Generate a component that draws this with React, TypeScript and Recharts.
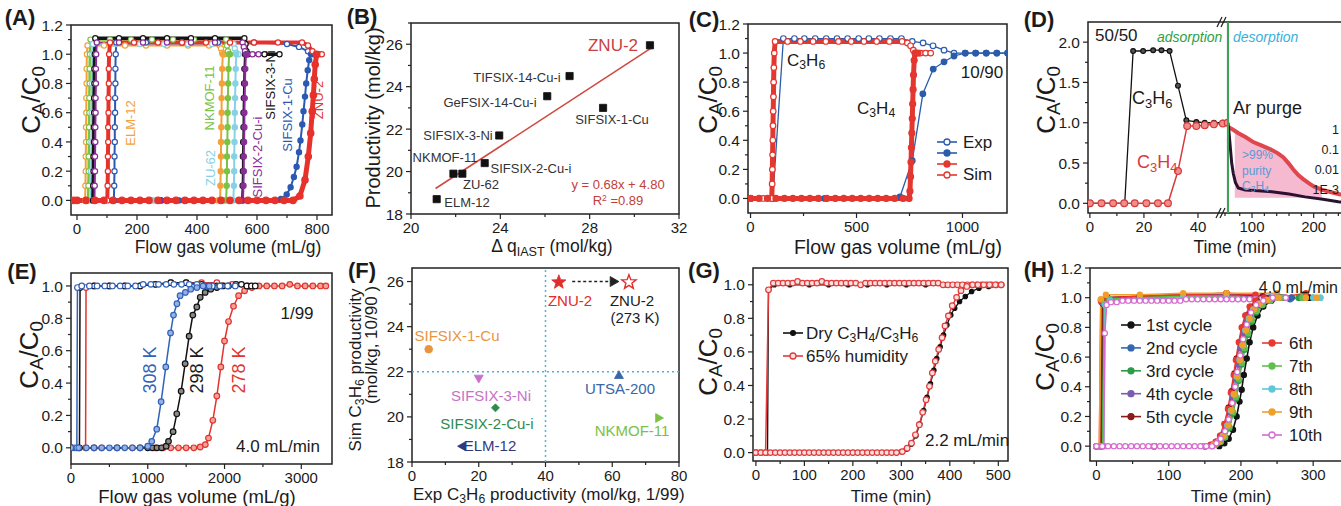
import React from 'react'
import { ComposedChart, Line, Scatter, Area, XAxis, YAxis, ReferenceArea, ReferenceLine } from 'recharts'

const FONT = '"Liberation Sans", Arial, Helvetica, sans-serif'
const AX = '#222'
const INK = '#1b1b1b'

type P = [number, number]

// shared tick values
const yTicks12 = [0, 0.1, 0.2, 0.3, 0.4, 0.5, 0.6, 0.7, 0.8, 0.9, 1, 1.1, 1.2]
const yMajor12 = [0, 0.2, 0.4, 0.6, 0.8, 1, 1.2]
const yTicks10 = [0, 0.1, 0.2, 0.3, 0.4, 0.5, 0.6, 0.7, 0.8, 0.9, 1]
const yMajor10 = [0, 0.2, 0.4, 0.6, 0.8, 1]

// ---------- (A) C3H6 open / C3H4 filled, 10/90 ----------
const aElmC3H6: P[] = [[0,0],[27,0],[28,0.1],[29,0.2],[29,0.3],[30,0.4],[30,0.5],[31,0.6],[31,0.7],[32,0.8],[32,0.9],[33,1],[35,1.06],[90,1.06],[160,1.06],[230,1.06],[300,1.06],[370,1.06],[440,1.06],[476,1.06],[480,1.04],[484,1.01],[492,1]]
const aElmC3H4: P[] = [[0,0],[240,0],[470,0],[477,0],[478,0.1],[479,0.2],[480,0.3],[480,0.4],[481,0.5],[482,0.6],[482,0.7],[483,0.8],[484,0.9],[486,1]]
const aNkC3H6: P[] = [[0,0],[37,0],[38,0.1],[39,0.2],[39,0.3],[40,0.4],[40,0.5],[41,0.6],[41,0.7],[42,0.8],[42,0.9],[43,1],[45,1.1],[110,1.1],[180,1.1],[250,1.1],[320,1.1],[390,1.1],[460,1.1],[497,1.1],[500,1.06],[503,1.02],[510,1]]
const aNkC3H4: P[] = [[0,0],[250,0],[490,0],[497,0],[499,0.1],[500,0.2],[500,0.3],[501,0.4],[502,0.5],[502,0.6],[503,0.7],[504,0.8],[505,0.9],[507,1]]
const aZuC3H6: P[] = [[0,0],[46,0],[47,0.2],[48,0.4],[49,0.6],[50,0.8],[51,1],[53,1.07],[130,1.07],[210,1.07],[290,1.07],[370,1.07],[450,1.07],[522,1.07],[526,1.04],[530,1.01],[538,1]]
const aZuC3H4: P[] = [[0,0],[260,0],[510,0],[521,0],[523,0.1],[524,0.2],[524,0.3],[525,0.4],[526,0.5],[526,0.6],[527,0.7],[528,0.8],[529,0.9],[531,1]]
const aS2C3H6: P[] = [[0,0],[58,0],[59,0.1],[60,0.2],[60,0.3],[61,0.4],[61,0.5],[62,0.6],[62,0.7],[63,0.8],[63,0.9],[64,1],[66,1.08],[140,1.08],[220,1.08],[300,1.08],[380,1.08],[460,1.08],[552,1.08],[556,1.05],[560,1.02],[566,1],[585,1],[605,1]]
const aS2C3H4: P[] = [[0,0],[280,0],[540,0],[553,0],[555,0.1],[556,0.2],[556,0.3],[557,0.4],[558,0.5],[558,0.6],[559,0.7],[560,0.8],[561,0.9],[563,1]]
const aS3C3H6: P[] = [[0,0],[53,0],[54,0.1],[55,0.2],[55,0.3],[56,0.4],[56,0.5],[57,0.6],[57,0.7],[58,0.8],[58,0.9],[59,1],[61,1.11],[140,1.11],[220,1.11],[300,1.11],[380,1.11],[460,1.11],[558,1.11],[562,1.07],[565,1.02],[570,1],[625,1],[675,1]]
const aS3C3H4: P[] = [[0,0],[280,0],[540,0],[550,0],[552,0.1],[553,0.2],[553,0.3],[554,0.4],[555,0.5],[555,0.6],[556,0.7],[557,0.8],[558,0.9],[560,1]]
const aS1C3H6: P[] = [[0,0],[123,0],[124,0.1],[125,0.2],[125,0.3],[126,0.4],[126,0.5],[127,0.6],[127,0.7],[128,0.8],[128,0.9],[129,1],[131,1.08],[230,1.08],[350,1.08],[470,1.08],[590,1.08],[700,1.07],[740,1.05],[770,1.02],[790,1]]
const aS1C3H4: P[] = [[0,0],[340,0],[680,0.01],[699,0.04],[712,0.09],[723,0.16],[732,0.23],[740,0.33],[745,0.41],[751,0.52],[755,0.61],[760,0.71],[764,0.8],[769,0.89],[774,0.96],[780,1]]
const aZnC3H6: P[] = [[0,0],[101,0],[102,0.1],[103,0.2],[103,0.3],[104,0.4],[104,0.5],[105,0.6],[105,0.7],[106,0.8],[106,0.9],[107,1],[110,1.08],[190,1.08],[270,1.08],[350,1.08],[430,1.08],[510,1.08],[590,1.08],[670,1.08],[750,1.08],[770,1.06],[785,1.02],[796,1],[806,1],[816,1]]
const aZnC3H4: P[] = [[-12,0],[0,0],[30,0],[60,0],[90,0],[120,0],[150,0],[180,0],[210,0],[240,0],[270,0],[300,0],[330,0],[360,0],[390,0],[420,0],[450,0],[480,0],[510,0],[540,0],[570,0],[600,0],[630,0],[660,0],[690,0],[720,0],[743,0.03],[760,0.14],[771,0.3],[779,0.46],[784,0.61],[788,0.72],[791,0.83],[794,0.93],[799,1]]

// ---------- (B) productivity vs delta q ----------
const bNames = ['ELM-12', 'NKMOF-11', 'ZU-62', 'SIFSIX-2-Cu-i', 'SIFSIX-3-Ni', 'GeFSIX-14-Cu-i', 'TIFSIX-14-Cu-i', 'SIFSIX-1-Cu', 'ZNU-2']
const bDeltaQ = [21.15, 21.9, 22.3, 23.3, 23.95, 26.1, 27.1, 28.6, 30.7]
const bProd = [18.7, 19.9, 19.9, 20.4, 21.7, 23.55, 24.5, 23.0, 25.95]
const bFit: P[] = [[21.1, 19.2], [30.8, 25.85]]

// ---------- (C) exp vs sim, 10/90 ----------
const cExpC3H6: P[] = [[0,0],[100,0],[105,0],[155,1.1],[207,1.1],[254,1.1],[305,1.1],[357,1.1],[408,1.1],[458,1.1],[510,1.1],[558,1.1],[608,1.1],[660,1.1],[712,1.1],[763,1.08],[814,1.07],[861,1.05],[913,1.02],[960,1.0],[1013,1],[1062,1],[1112,1],[1162,1],[1213,1]]
const cExpC3H4: P[] = [[0,0],[350,0],[705,0.01],[763,0.26],[813,0.72],[862,0.89],[913,0.94],[960,0.98],[1013,1],[1062,1],[1112,1],[1162,1],[1213,1]]
const cSimC3H6: P[] = [[0,0],[60,0],[100,0],[102,0.1],[103,0.2],[104,0.3],[105,0.4],[106,0.5],[107,0.6],[108,0.7],[109,0.8],[110,0.9],[112,1],[116,1.08],[175,1.08],[235,1.08],[295,1.08],[355,1.08],[415,1.08],[475,1.08],[535,1.08],[595,1.08],[655,1.08],[715,1.08],[740,1.07],[755,1.05],[768,1.02],[780,1],[802,1],[826,1],[850,1]]
const cSimC3H4: P[] = [[0,0],[40,0],[80,0],[120,0],[160,0],[200,0],[240,0],[280,0],[320,0],[360,0],[400,0],[440,0],[480,0],[520,0],[560,0],[600,0],[640,0],[680,0],[720,0],[748,0],[752,0.05],[755,0.15],[757,0.25],[759,0.35],[761,0.45],[763,0.55],[765,0.65],[767,0.75],[769,0.85],[772,0.95],[776,1],[790,1]]

// ---------- (D) 50/50 adsorption + Ar purge desorption ----------
const dAdsC3H6: P[] = [[0,0],[4.3,0],[8.6,0],[12.9,0],[16,1.89],[19.7,1.89],[23.4,1.9],[26.5,1.9],[29.5,1.89],[32.6,1.46],[35.7,1.03],[39.4,1.01],[42.5,1],[45.9,1],[49.2,1],[51,1]]
const dAdsC3H4: P[] = [[0,0],[4.3,0],[8.6,0],[12.7,0],[16.6,0],[20.9,0],[25.2,0],[28.9,0],[32.6,0.4],[36,0.96],[39.4,0.96],[42.5,0.97],[45.9,0.98],[49.2,0.99],[51,1]]
const dDesC3H6: P[] = [[61,1],[63,0.85],[64.7,0.7],[67,0.5],[69.6,0.37],[73,0.26],[77.7,0.19],[89,0.165],[110,0.155],[132,0.144],[160,0.115],[186,0.08],[215,0.05],[240,0.02],[260,0]]
const dDesC3H4: P[] = [[61,0.95],[70,0.91],[78,0.87],[90,0.82],[102,0.76],[115,0.72],[130,0.67],[142,0.62],[151,0.57],[160,0.49],[167,0.42],[175,0.35],[183,0.3],[192,0.25],[200,0.21],[213,0.17],[227,0.14],[243,0.11],[260,0.09]]
const dPurity: P[] = [[72,0.9],[78,0.87],[90,0.82],[102,0.76],[115,0.72],[130,0.67],[142,0.62],[151,0.57],[160,0.49],[167,0.42],[175,0.35],[183,0.3],[192,0.25],[200,0.21],[213,0.17]]
const dLogLabels = ['1', '0.1', '0.01', '1E-3']

// ---------- (E) temperature, 1/99 ----------
const e308C3H6: P[] = [[0,0],[40,0],[76,0],[84,0.99],[140,1],[240,1],[340,1],[440,1],[540,1],[640,1],[740,1],[840,1],[940,1.01],[1040,1.01],[1140,1.01],[1240,1.01],[1340,1.01],[1440,1.01],[1540,1.01],[1640,1.01],[1740,1],[1840,1],[1940,1],[2040,1],[2140,1]]
const e308C3H4: P[] = [[0,0],[100,0],[200,0],[300,0],[400,0],[500,0],[600,0],[700,0],[800,0],[900,0],[1000,0.01],[1052,0.04],[1117,0.115],[1174,0.285],[1235,0.5],[1297,0.71],[1335,0.82],[1380,0.89],[1421,0.94],[1490,0.96],[1560,0.98],[1640,0.99],[1720,1],[1800,1]]
const e298C3H6: P[] = [[0,0],[110,0],[118,0.99],[300,1],[500,1],[700,1],[900,1],[1100,1.01],[1300,1.02],[1500,1.02],[1700,1.01],[1900,1],[2050,1],[2150,1.01],[2220,1.01],[2290,1],[2350,1],[2400,1]]
const e298C3H4: P[] = [[0,0],[300,0],[600,0],[900,0],[1000,0],[1060,0],[1120,0],[1180,0],[1240,0.01],[1270,0.04],[1330,0.1],[1378,0.21],[1435,0.35],[1487,0.52],[1539,0.69],[1587,0.82],[1639,0.87],[1683,0.93],[1748,0.96],[1820,0.98],[1900,0.99],[1980,1]]
const e278C3H6: P[] = [[0,0],[190,0],[196,0.99],[300,1],[500,1],[700,1],[900,1],[1100,1.01],[1300,1.02],[1500,1.02],[1700,1.02],[1900,1.02],[2100,1.01],[2300,1]]
const e278C3H4: P[] = [[0,0],[400,0],[800,0],[1100,0],[1200,0],[1300,0],[1400,0],[1500,0],[1600,0],[1683,0.005],[1750,0.02],[1791,0.06],[1848,0.17],[1900,0.32],[1952,0.5],[2000,0.66],[2052,0.78],[2117,0.875],[2183,0.94],[2261,0.97],[2357,0.99],[2450,1],[2550,1],[2650,1],[2750,1],[2850,1.01],[2950,1],[3050,1],[3150,1],[3250,1],[3320,1]]

// ---------- (F) sim vs exp productivity ----------
const fNames = ['ZNU-2', 'ZNU-2 (273 K)', 'SIFSIX-1-Cu', 'SIFSIX-3-Ni', 'SIFSIX-2-Cu-i', 'ELM-12', 'UTSA-200', 'NKMOF-11']
const fExp = [44, 65, 5, 20, 25, 15, 62, 74]
const fSim = [25.97, 25.97, 23.0, 21.7, 20.4, 18.7, 21.85, 19.95]
const fArrow: P[] = [[48, 26], [60.5, 26]]
const fShape = ['star', 'star', 'circle', 'down', 'diamond', 'left', 'up', 'right']
const fColor = ['#e22b2b', '#e22b2b', '#e99540', '#c672c6', '#2f8a4c', '#2f3a7c', '#3866a9', '#7cc143']
const fSize = [7.5, 7.5, 3.8, 4.5, 4, 4.5, 4.5, 4.5]

// ---------- (G) dry vs humid ----------
const gDryC3H6: P[] = [[0,0],[24,0],[26,0.97],[38,1],[70,1],[110,1],[150,1],[190,1],[230,1],[270,1],[310,1],[350,1],[390,1],[430,1],[470,1],[505,1]]
const gDryC3H4: P[] = [[0,0],[100,0],[200,0],[290,0],[300,0.005],[310,0.02],[320,0.05],[330,0.1],[338,0.17],[346,0.25],[353,0.33],[360,0.41],[367,0.49],[373,0.56],[380,0.63],[387,0.7],[394,0.76],[402,0.82],[410,0.86],[420,0.9],[432,0.93],[445,0.96],[460,0.98],[480,0.99],[505,1]]
const gWetC3H6: P[] = [[0,0],[10,0],[20,0],[26,0.97],[36,1.01],[46,1.01],[56,1.01],[66,1.01],[76,1.01],[86,1.02],[96,1.01],[106,1.01],[116,1.01],[126,1.01],[136,1.02],[146,1.01],[156,1.01],[166,1.01],[176,1.01],[186,1.01],[196,1.01],[206,1.01],[216,1],[226,1.01],[236,1.01],[246,1.01],[256,1.01],[266,1.01],[276,1.01],[286,1.01],[296,1.01],[306,1.01],[316,1.01],[326,1.01],[336,1.01],[346,1.01],[356,1.01],[366,1.01],[376,1.01],[386,1],[396,1],[406,1],[416,1],[426,1],[436,1],[446,1],[456,1],[466,1],[476,1],[486,1],[496,1],[506,1]]
const gWetC3H4: P[] = [[0,0],[10,0],[20,0],[30,0],[40,0],[50,0],[60,0],[70,0],[80,0],[90,0],[100,0],[110,0],[120,0],[130,0],[140,0],[150,0],[160,0],[170,0],[180,0],[190,0],[200,0],[210,0],[220,0],[230,0],[240,0],[250,0],[260,0],[270,0],[280,0],[290,0],[302,0.006],[312,0.026],[321,0.056],[329,0.106],[337,0.166],[344,0.24],[351,0.315],[358,0.395],[364,0.475],[370,0.545],[377,0.615],[384,0.685],[390,0.755],[397,0.815],[405,0.875],[414,0.925],[423,0.965],[435,0.99],[447,1],[458,1],[470,1],[482,1],[494,1],[506,1]]

// ---------- (H) ten cycles ----------
const hNames = ['1st cycle', '2nd cycle', '3rd cycle', '4th cycle', '5th cycle', '6th', '7th', '8th', '9th', '10th']
const h1C3H6: P[] = [[0,0],[7,0],[9,0.96],[16,0.99],[60,1],[120,1.01],[180,1.01],[230,1],[270,1],[295,1]]
const h2C3H6: P[] = [[0,0],[6,0],[8,0.97],[15,1],[60,1.01],[120,1.02],[180,1.02],[240,1],[268,0.99]]
const h3C3H6: P[] = [[0,0],[8,0],[10,0.96],[17,0.99],[60,1],[120,1.01],[180,1.01],[240,1],[280,1]]
const h4C3H6: P[] = [[0,0],[5,0],[7,0.97],[14,1],[60,1.01],[120,1.02],[180,1.02],[240,1],[262,1]]
const h5C3H6: P[] = [[0,0],[6,0],[8,0.98],[15,1],[60,1.01],[120,1.02],[180,1.03],[230,1.01],[255,1]]
const h6C3H6: P[] = [[0,0],[4,0],[6,0.98],[14,1],[60,1.01],[120,1.02],[180,1.03],[220,1.02],[250,1],[290,1.03],[300,1]]
const h7C3H6: P[] = [[0,0],[9,0],[11,0.96],[18,0.99],[60,1],[120,1.01],[180,1.01],[240,0.99],[285,1]]
const h8C3H6: P[] = [[0,0],[10,0],[12,0.95],[19,0.98],[60,0.99],[120,1],[180,1],[240,0.99],[300,1],[310,1]]
const h9C3H6: P[] = [[0,0],[4,0],[6,0.99],[13,1.02],[60,1.02],[120,1.03],[180,1.03],[250,1.03],[262,1],[290,1],[305,1]]
const h10C3H6: P[] = [[0,0],[10,0],[11.5,0.76],[14,0.95],[20,0.97],[28,0.97],[36,0.98],[44,0.98],[52,0.98],[60,0.98],[68,0.98],[76,0.98],[84,0.98],[92,0.98],[100,0.98],[108,0.98],[116,0.98],[124,0.99],[132,0.99],[140,0.99],[148,0.99],[156,0.99],[164,0.99],[172,0.99],[180,0.99],[188,0.99],[196,0.99],[204,0.99],[212,0.99],[220,0.99],[228,0.99],[236,0.99],[244,0.99],[252,1],[262,1]]
const h1C3H4: P[] = [[0,0],[80,0],[150,0],[170,0],[177,0.02],[183,0.05],[189,0.11],[194,0.2],[198,0.3],[201,0.38],[204,0.48],[208,0.59],[212,0.7],[217,0.8],[223,0.88],[231,0.94],[242,0.98],[258,1],[295,1]]
const h2C3H4: P[] = [[0,0],[80,0],[150,0],[164,0.01],[171,0.03],[177,0.06],[183,0.13],[188,0.23],[192,0.34],[196,0.46],[200,0.57],[204,0.67],[208,0.77],[213,0.85],[219,0.91],[227,0.95],[238,0.98],[252,1],[270,1]]
const h3C3H4: P[] = [[0,0],[80,0],[150,0],[165,0.01],[172,0.03],[178,0.06],[184,0.12],[189,0.22],[193,0.32],[197,0.44],[201,0.55],[205,0.65],[210,0.75],[215,0.84],[221,0.9],[229,0.95],[240,0.98],[255,1],[280,1]]
const h4C3H4: P[] = [[0,0],[80,0],[150,0],[160,0],[168,0.02],[174,0.06],[180,0.13],[185,0.23],[189,0.33],[193,0.45],[196,0.55],[200,0.66],[204,0.76],[209,0.85],[215,0.92],[222,0.96],[232,0.985],[245,1],[260,1]]
const h5C3H4: P[] = [[0,0],[80,0],[150,0],[160,0.01],[166,0.03],[172,0.07],[178,0.15],[183,0.26],[187,0.37],[191,0.49],[194,0.59],[198,0.7],[202,0.8],[207,0.88],[213,0.94],[222,0.98],[235,1],[255,1]]
const h6C3H4: P[] = [[0,0],[80,0],[150,0],[158,0.01],[165,0.03],[171,0.07],[177,0.15],[182,0.25],[186,0.36],[190,0.48],[193,0.58],[197,0.7],[201,0.8],[206,0.88],[212,0.94],[220,0.98],[232,1],[250,1]]
const h7C3H4: P[] = [[0,0],[80,0],[150,0],[165,0.01],[172,0.03],[178,0.06],[184,0.13],[189,0.23],[193,0.33],[197,0.45],[201,0.56],[205,0.66],[210,0.76],[215,0.85],[222,0.91],[230,0.95],[241,0.98],[256,1],[285,1]]
const h8C3H4: P[] = [[0,0],[80,0],[150,0],[162,0.01],[169,0.03],[175,0.07],[181,0.14],[186,0.24],[190,0.35],[194,0.47],[198,0.58],[202,0.68],[206,0.78],[211,0.86],[217,0.92],[225,0.96],[236,0.985],[250,1],[300,1],[310,1]]
const h9C3H4: P[] = [[0,0],[80,0],[150,0],[163,0.01],[170,0.03],[176,0.07],[182,0.14],[187,0.24],[191,0.35],[195,0.47],[199,0.58],[203,0.68],[207,0.78],[212,0.86],[218,0.92],[226,0.96],[237,0.985],[252,1],[290,1],[305,1]]
const h10C3H4: P[] = [[0,0],[8,0],[16,0],[24,0],[32,0],[40,0],[48,0],[56,0],[64,0],[72,0],[80,0],[88,0],[96,0],[104,0],[112,0],[120,0],[128,0],[136,0],[144,0],[152,0],[160,0],[166,0.02],[172,0.05],[178,0.1],[183,0.18],[188,0.29],[192,0.4],[195,0.5],[199,0.61],[203,0.72],[208,0.82],[214,0.9],[221,0.95],[231,0.98],[244,1],[262,1]]
const hC3H6 = [h1C3H6, h2C3H6, h3C3H6, h4C3H6, h5C3H6, h6C3H6, h7C3H6, h8C3H6, h9C3H6, h10C3H6]
const hC3H4 = [h1C3H4, h2C3H4, h3C3H4, h4C3H4, h5C3H4, h6C3H4, h7C3H4, h8C3H4, h9C3H4, h10C3H4]
const hColors = ['#141414', '#3567b0', '#2e9a4a', '#7a5cb0', '#8b1c1c', '#e8382f', '#5fbf4f', '#5ec8d8', '#f0a02a', '#d66ad0']

// ---------- helpers ----------
const f1 = (v: number) => v.toFixed(1)
const f0 = (v: number) => String(v)
const TICK_FS = 15

function xTick(major: number[], fmt: (v: number) => string, size: number) {
  return (p: any) => {
    const v = p.payload.value
    const big = major.includes(v)
    return (
      <g>
        <line x1={p.x} x2={p.x} y1={p.y} y2={p.y + (big ? 5 : 3)} stroke={AX} strokeWidth={1.2} />
        {big && (
          <text x={p.x} y={p.y + 19} textAnchor="middle" fontSize={size} fontFamily={FONT} fill={INK}>
            {fmt(v)}
          </text>
        )}
      </g>
    )
  }
}

function yTick(major: number[], fmt: (v: number) => string, size: number) {
  return (p: any) => {
    const v = p.payload.value
    const big = major.includes(v)
    return (
      <g>
        <line x1={p.x - (big ? 5 : 3)} x2={p.x} y1={p.y} y2={p.y} stroke={AX} strokeWidth={1.2} />
        {big && (
          <text x={p.x - 8} y={p.y} dy="0.36em" textAnchor="end" fontSize={size + 0.5} fontFamily={FONT} fill={INK}>
            {fmt(v)}
          </text>
        )}
      </g>
    )
  }
}

const PADL = 62
const PADR = 14
const PADT = 12
const PADB = 40

type Box = { x0: number; y0: number; x1: number; y1: number }

function Plot(props: {
  box: Box; xd: [number, number]; yd: [number, number]
  xt: number[]; xm: number[]; yt?: number[]; ym?: number[]
  xf?: (v: number) => string; yf?: (v: number) => string
  frame?: boolean; noY?: boolean; data?: any[]; children?: React.ReactNode
}) {
  const { box, xd, yd, xt, xm, yt = [], ym = [], xf = f0, yf = f1, frame = true, noY = false, data, children } = props
  const w = box.x1 - box.x0 + PADL + PADR
  const h = box.y1 - box.y0 + PADT + PADB
  return (
    <div style={{ position: 'absolute', left: box.x0 - PADL, top: box.y0 - PADT }}>
      <ComposedChart width={w} height={h} data={data} margin={{ top: PADT, right: PADR, bottom: 0, left: 0 }}>
        <XAxis type="number" dataKey="x" domain={xd} allowDataOverflow ticks={xt} interval={0} height={PADB}
          axisLine={false} tickLine={false} tickSize={0} tickMargin={0} tick={xTick(xm, xf, TICK_FS)} />
        <YAxis type="number" dataKey="y" domain={yd} allowDataOverflow ticks={noY ? undefined : yt} interval={0} width={PADL}
          axisLine={false} tickLine={false} tickSize={0} tickMargin={0} tick={noY ? false : yTick(ym, yf, TICK_FS)} />
        {frame && (
          <ReferenceArea x1={xd[0]} x2={xd[1]} y1={yd[0]} y2={yd[1]} fill="none" stroke={AX} strokeWidth={1.5} ifOverflow="visible" />
        )}
        {children}
      </ComposedChart>
    </div>
  )
}

function curve(key: string, pts: P[], color: string, o: { open?: boolean; r?: number; w?: number; fill?: string; dot?: boolean } = {}) {
  const data = pts.map(([x, y]) => ({ x, y }))
  const r = o.r ?? 2.6
  return (
    <Line key={key} data={data} dataKey="y" type="linear" stroke={color} strokeWidth={o.w ?? 1.6}
      dot={o.dot === false ? false : { r, fill: o.fill ?? (o.open ? '#fff' : color), stroke: color, strokeWidth: 1.2 }}
      activeDot={false} isAnimationActive={false} />
  )
}

function starPath(cx: number, cy: number, R: number) {
  const r = R * 0.42
  let d = ''
  for (let k = 0; k < 10; k++) {
    const ang = -Math.PI / 2 + (k * Math.PI) / 5
    const rr = k % 2 === 0 ? R : r
    d += (k === 0 ? 'M' : 'L') + (cx + rr * Math.cos(ang)).toFixed(2) + ',' + (cy + rr * Math.sin(ang)).toFixed(2)
  }
  return d + 'Z'
}

function marker(kind: string, color: string, s: number, open = false) {
  return (p: any) => {
    const { cx, cy } = p
    if (cx == null || cy == null) return <g />
    let d = ''
    if (kind === 'star') d = starPath(cx, cy, s)
    else if (kind === 'up') d = `M${cx},${cy - s}L${cx + s},${cy + s * 0.75}L${cx - s},${cy + s * 0.75}Z`
    else if (kind === 'down') d = `M${cx},${cy + s}L${cx + s},${cy - s * 0.75}L${cx - s},${cy - s * 0.75}Z`
    else if (kind === 'left') d = `M${cx - s},${cy}L${cx + s * 0.75},${cy - s}L${cx + s * 0.75},${cy + s}Z`
    else if (kind === 'right') d = `M${cx + s},${cy}L${cx - s * 0.75},${cy - s}L${cx - s * 0.75},${cy + s}Z`
    else if (kind === 'diamond') d = `M${cx},${cy - s}L${cx + s},${cy}L${cx},${cy + s}L${cx - s},${cy}Z`
    else if (kind === 'square') d = `M${cx - s},${cy - s}h${2 * s}v${2 * s}h${-2 * s}Z`
    else return <circle cx={cx} cy={cy} r={s} fill={open ? '#fff' : color} stroke={color} strokeWidth={1} />
    return <path d={d} fill={open ? '#fff' : color} stroke={color} strokeWidth={open ? 1.4 : 0.8} />
  }
}

const Sb = ({ children }: any) => <span style={{ fontSize: '0.72em', position: 'relative', top: '0.28em' }}>{children}</span>
const Sp = ({ children }: any) => <span style={{ fontSize: '0.65em', position: 'relative', top: '-0.5em' }}>{children}</span>

function Tx({ x, y, s = 17, c = INK, a = 'c', r = 0, b = false, i = false, children }: any) {
  const tx = a === 'l' ? '0' : a === 'r' ? '-100%' : '-50%'
  return (
    <div style={{
      position: 'absolute', left: x, top: y, transform: `translate(${tx},-50%) rotate(${r}deg)`,
      fontSize: s, color: c, whiteSpace: 'nowrap', lineHeight: 1, fontWeight: b ? 700 : 400,
      fontStyle: i ? 'italic' : 'normal', fontFamily: FONT,
    }}>
      {children}
    </div>
  )
}

const CaC0 = (
  <span>C<Sb>A</Sb>/C<Sb>0</Sb></span>
)

function Mark({ x, y, c, open = false, fill, w = 20, r = 3 }: any) {
  return (
    <g>
      <line x1={x - w / 2} x2={x + w / 2} y1={y} y2={y} stroke={c} strokeWidth={1.6} />
      <circle cx={x} cy={y} r={r} fill={fill ?? (open ? '#fff' : c)} stroke={c} strokeWidth={1.3} />
    </g>
  )
}

const cOrange = '#f3a23b'
const cGreen = '#7cc243'
const cCyan = '#86d2e4'
const cPurple = '#8a2e97'
const cBlack = '#141414'
const cBlue = '#2b59b1'
const cRed = '#e7312b'

export default function App() {
  return (
    <div style={{ position: 'absolute', left: 0, top: 0, width: 1341, height: 506, overflow: 'hidden', background: '#fff', fontFamily: FONT, color: INK }}>
      {/* (A) */}
      <Plot box={{ x0: 71, y0: 25, x1: 332, y1: 215 }} xd={[-20, 850]} yd={[-0.1, 1.2]}
        xt={[0, 100, 200, 300, 400, 500, 600, 700, 800]} xm={[0, 200, 400, 600, 800]} yt={yTicks12} ym={yMajor12}>
        {curve('a1', aElmC3H6, cOrange, { open: true, w: 2 })}
        {curve('a2', aElmC3H4, cOrange, { w: 2 })}
        {curve('a3', aNkC3H6, cGreen, { open: true, w: 2.5 })}
        {curve('a4', aNkC3H4, cGreen, { w: 2 })}
        {curve('a5', aZuC3H6, cCyan, { open: true, w: 2 })}
        {curve('a6', aZuC3H4, cCyan, { w: 2 })}
        {curve('a7', aS1C3H6, cBlue, { open: true, w: 2 })}
        {curve('a8', aS1C3H4, cBlue, { w: 2 })}
        {curve('a9', aS3C3H6, cBlack, { open: true, w: 3.5 })}
        {curve('a10', aS3C3H4, cBlack, { w: 2 })}
        {curve('a11', aS2C3H6, cPurple, { open: true, w: 2 })}
        {curve('a12', aS2C3H4, cPurple, { w: 2 })}
        {curve('a13', aZnC3H6, cRed, { open: true, w: 4 })}
        {curve('a14', aZnC3H4, cRed, { w: 5, r: 3.2 })}
      </Plot>

      {/* (B) */}
      <Plot box={{ x0: 411, y0: 23, x1: 679, y1: 214 }} xd={[20, 32]} yd={[18, 27]}
        xt={[20, 22, 24, 26, 28, 30, 32]} xm={[20, 24, 28, 32]} yt={[18, 19, 20, 21, 22, 23, 24, 25, 26, 27]} ym={[18, 20, 22, 24, 26]} yf={f0}>
        {curve('bfit', bFit, '#cf4a42', { dot: false, w: 1.6 })}
        <Scatter data={bDeltaQ.map((x, k) => ({ x, y: bProd[k], name: bNames[k] }))} shape={marker('square', '#111', 3.6)} isAnimationActive={false} />
      </Plot>

      {/* (C) */}
      <Plot box={{ x0: 748, y0: 24, x1: 1007, y1: 213 }} xd={[-12, 1210]} yd={[-0.1, 1.2]}
        xt={[0, 250, 500, 750, 1000]} xm={[0, 500, 1000]} yt={yTicks12} ym={yMajor12}>
        {curve('c1', cExpC3H6, '#2a5caa', { open: true, w: 1.3, r: 2.8 })}
        {curve('c2', cExpC3H4, '#2a5caa', { w: 1.3, r: 2.8 })}
        {curve('c3', cSimC3H6, '#e3372f', { open: true, w: 5, r: 2.8 })}
        {curve('c4', cSimC3H4, '#e3372f', { w: 5, r: 3 })}
      </Plot>

      {/* (D) adsorption part */}
      <Plot box={{ x0: 1088, y0: 22, x1: 1227.7, y1: 213 }} xd={[-0.7, 51]} yd={[-0.12, 2.25]}
        xt={[0, 10, 20, 30, 40, 50]} xm={[0, 20, 40]} yt={[0, 0.25, 0.5, 0.75, 1, 1.25, 1.5, 1.75, 2]} ym={[0, 0.5, 1, 1.5, 2]}>
        {curve('d1', dAdsC3H6, '#111', { w: 1.3, r: 2.4, fill: '#555' })}
        {curve('d2', dAdsC3H4, '#d63a3a', { w: 1.5, r: 3.4, fill: '#ef8d8d' })}
      </Plot>

      {/* (D) desorption part */}
      <Plot box={{ x0: 1227.7, y0: 22, x1: 1350, y1: 213 }} xd={[61, 259.4]} yd={[-0.12, 2.25]}
        xt={[80, 100, 120, 140, 160, 180, 200, 220, 240]} xm={[100, 200]} noY frame={false}
        data={dPurity.map(([x, y]) => ({ x, y }))}>
        <Area dataKey="y" type="linear" baseValue={0.07} stroke="none" fill="#f5b9d0" fillOpacity={1} isAnimationActive={false} />
        {curve('d3', dDesC3H4, '#e0474c', { w: 4, dot: false })}
        {curve('d4', dDesC3H6, '#2a1230', { w: 3, dot: false })}
        <ReferenceLine y={2.25} stroke={AX} strokeWidth={1.5} ifOverflow="visible" />
        <ReferenceLine y={-0.12} stroke={AX} strokeWidth={1.5} ifOverflow="visible" />
        <ReferenceLine x={61} stroke="#3aa655" strokeWidth={2} ifOverflow="visible" />
      </Plot>

      {/* (E) */}
      <Plot box={{ x0: 71, y0: 273, x1: 332, y1: 464 }} xd={[0, 3400]} yd={[-0.1, 1.08]}
        xt={[0, 500, 1000, 1500, 2000, 2500, 3000]} xm={[0, 1000, 2000, 3000]} yt={yTicks10} ym={yMajor10}>
        {curve('e1', e278C3H6, '#e0352d', { open: true, w: 1.5, r: 2.8 })}
        {curve('e2', e278C3H4, '#e0352d', { w: 1.5, r: 2.8, fill: '#f4a19b' })}
        {curve('e3', e298C3H6, '#111', { open: true, w: 1.5, r: 2.8 })}
        {curve('e4', e298C3H4, '#111', { w: 1.5, r: 2.8, fill: '#8a8a8a' })}
        {curve('e5', e308C3H6, '#3262b8', { open: true, w: 1.5, r: 2.8 })}
        {curve('e6', e308C3H4, '#3262b8', { w: 1.5, r: 2.8, fill: '#93b1e6' })}
      </Plot>

      {/* (F) */}
      <Plot box={{ x0: 412, y0: 268, x1: 679, y1: 462 }} xd={[0, 80]} yd={[18, 26.6]}
        xt={[0, 10, 20, 30, 40, 50, 60, 70, 80]} xm={[0, 20, 40, 60, 80]} yt={[18, 19, 20, 21, 22, 23, 24, 25, 26]} ym={[18, 20, 22, 24, 26]} yf={f0}>
        <ReferenceLine x={40} stroke="#4fb3d9" strokeWidth={1.5} strokeDasharray="2 3" />
        <ReferenceLine y={22} stroke="#4fb3d9" strokeWidth={1.5} strokeDasharray="2 3" />
        <ReferenceLine segment={fArrow.map(([x, y]) => ({ x, y }))} stroke="#222" strokeWidth={1.5} strokeDasharray="3 2.5" />
        <Scatter data={[{ x: fArrow[1][0], y: fArrow[1][1] }]} shape={marker('right', '#222', 5)} isAnimationActive={false} />
        {fExp.map((x, k) => (
          <Scatter key={'f' + k} name={fNames[k]} data={[{ x, y: fSim[k] }]} shape={marker(fShape[k], fColor[k], fSize[k], k === 1)} isAnimationActive={false} />
        ))}
      </Plot>

      {/* (G) */}
      <Plot box={{ x0: 753, y0: 268, x1: 1008, y1: 461 }} xd={[-6, 520]} yd={[-0.05, 1.1]}
        xt={[0, 50, 100, 150, 200, 250, 300, 350, 400, 450, 500]} xm={[0, 100, 200, 300, 400, 500]} yt={yTicks10} ym={yMajor10}>
        {curve('g1', gDryC3H6, '#111', { w: 1.3, r: 2.2 })}
        {curve('g2', gDryC3H4, '#111', { w: 1.3, r: 2.2 })}
        {curve('g3', gWetC3H6, '#e03a3a', { w: 1.5, r: 2.8, fill: '#fbe0e0' })}
        {curve('g4', gWetC3H4, '#e03a3a', { w: 1.5, r: 2.8, fill: '#fbe0e0' })}
      </Plot>

      {/* (H) */}
      <Plot box={{ x0: 1090, y0: 268, x1: 1350, y1: 461 }} xd={[-9, 351]} yd={[-0.1, 1.2]}
        xt={[0, 50, 100, 150, 200, 250, 300, 350]} xm={[0, 100, 200, 300]} yt={yTicks12} ym={yMajor12}>
        {hC3H6.map((pts, k) => curve('h6_' + k, pts, hColors[k], { w: 1.6, r: 2.6, open: k === 9 }))}
        {hC3H4.map((pts, k) => curve('h4_' + k, pts, hColors[k], { w: 1.6, r: 2.6, open: k === 9 }))}
      </Plot>

      {/* decorations: legends, axis break */}
      <svg width={1341} height={506} style={{ position: 'absolute', left: 0, top: 0, pointerEvents: 'none' }}>
        <Mark x={947} y={142} c="#2a5caa" open />
        <Mark x={947} y={153} c="#2a5caa" />
        <Mark x={947} y={164} c="#e3372f" />
        <Mark x={947} y={175} c="#e3372f" open />
        <line x1={1217} y1={27} x2={1222} y2={17} stroke={AX} strokeWidth={1.3} />
        <line x1={1221} y1={27} x2={1226} y2={17} stroke={AX} strokeWidth={1.3} />
        <line x1={1216} y1={218} x2={1221} y2={208} stroke={AX} strokeWidth={1.3} />
        <line x1={1220} y1={218} x2={1225} y2={208} stroke={AX} strokeWidth={1.3} />
        <Mark x={793} y={333} c="#111" r={2.4} />
        <Mark x={793} y={356} c="#e03a3a" fill="#fbe0e0" />
        {hNames.map((n, k) => (
          <Mark key={n} x={k < 5 ? 1131 : 1272} y={k < 5 ? 325 + k * 22.9 : 343 + (k - 5) * 23} c={hColors[k]} open={k === 9} r={3} />
        ))}
      </svg>

      {/* panel letters */}
      <Tx x={20} y={18} s={22} b>(A)</Tx>
      <Tx x={362} y={17} s={22} b>(B)</Tx>
      <Tx x={704} y={20} s={22} b>(C)</Tx>
      <Tx x={1039} y={20} s={22} b>(D)</Tx>
      <Tx x={22} y={272} s={22} b>(E)</Tx>
      <Tx x={362} y={271} s={22} b>(F)</Tx>
      <Tx x={704} y={271} s={22} b>(G)</Tx>
      <Tx x={1039} y={270} s={22} b>(H)</Tx>

      {/* A texts */}
      <Tx x={31} y={100} s={26} r={-90}>{CaC0}</Tx>
      <Tx x={228} y={248} s={17.5}>Flow gas volume (mL/g)</Tx>
      <Tx x={130} y={123} s={13} r={-90} c={cOrange}>ELM-12</Tx>
      <Tx x={210} y={168} s={13} r={-90} c={cCyan}>ZU-62</Tx>
      <Tx x={209} y={98} s={13} r={-90} c={cGreen}>NKMOF-11</Tx>
      <Tx x={257} y={157} s={13} r={-90} c={cPurple}>SIFSIX-2-Cu-i</Tx>
      <Tx x={270} y={85} s={13} r={-90} c={cBlack}>SIFSIX-3-Ni</Tx>
      <Tx x={287} y={115} s={13} r={-90} c={cBlue}>SIFSIX-1-Cu</Tx>
      <Tx x={318} y={100} s={13} r={-90} c={cRed}>ZNU-2</Tx>

      {/* B texts */}
      <Tx x={373} y={118} s={20} r={-90}>Productivity (mol/kg)</Tx>
      <Tx x={552} y={247} s={17.5}>Δ q<Sb>IAST</Sb> (mol/kg)</Tx>
      <Tx x={613} y={45} s={17} c="#c9413d">ZNU-2</Tx>
      <Tx x={517} y={77} s={13} c="#333">TIFSIX-14-Cu-i</Tx>
      <Tx x={490} y={102} s={13} c="#333">GeFSIX-14-Cu-i</Tx>
      <Tx x={612} y={119} s={13} c="#333">SIFSIX-1-Cu</Tx>
      <Tx x={458} y={135} s={13} c="#333">SIFSIX-3-Ni</Tx>
      <Tx x={445} y={157} s={13} c="#333">NKMOF-11</Tx>
      <Tx x={531} y={168} s={13} c="#333">SIFSIX-2-Cu-i</Tx>
      <Tx x={481} y={184} s={13} c="#333">ZU-62</Tx>
      <Tx x={467} y={202} s={13} c="#333">ELM-12</Tx>
      <Tx x={618} y={184} s={13} c="#c0403c">y = 0.68x + 4.80</Tx>
      <Tx x={618} y={200} s={13} c="#c0403c">R<Sp>2</Sp> =0.89</Tx>

      {/* C texts */}
      <Tx x={708} y={100} s={26} r={-90}>{CaC0}</Tx>
      <Tx x={898} y={248} s={19.5}>Flow gas volume (mL/g)</Tx>
      <Tx x={787} y={60} s={17} a="l">C<Sb>3</Sb>H<Sb>6</Sb></Tx>
      <Tx x={857} y={108} s={17} a="l">C<Sb>3</Sb>H<Sb>4</Sb></Tx>
      <Tx x={982} y={72} s={17}>10/90</Tx>
      <Tx x={963} y={142} s={17} a="l">Exp</Tx>
      <Tx x={963} y={174} s={17} a="l">Sim</Tx>

      {/* D texts */}
      <Tx x={1046} y={100} s={26} r={-90}>{CaC0}</Tx>
      <Tx x={1235} y={248} s={17.5}>Time (min)</Tx>
      <Tx x={1095} y={35} s={17} a="l">50/50</Tx>
      <Tx x={1157} y={37} s={14} a="l" i c="#2ea043">adsorption</Tx>
      <Tx x={1233} y={37} s={14} a="l" i c="#3ab0d8">desorption</Tx>
      <Tx x={1132} y={98} s={18} a="l">C<Sb>3</Sb>H<Sb>6</Sb></Tx>
      <Tx x={1137} y={162} s={18} a="l" c="#d93a3a">C<Sb>3</Sb>H<Sb>4</Sb></Tx>
      <Tx x={1233} y={108} s={18} a="l">Ar purge</Tx>
      <Tx x={1242} y={155} s={12} a="l" c="#5b9bd5">&gt;99%</Tx>
      <Tx x={1242} y={171} s={12} a="l" c="#5b9bd5">purity</Tx>
      <Tx x={1242} y={186} s={12} a="l" c="#5b9bd5">C<Sb>3</Sb>H<Sb>4</Sb></Tx>
      {dLogLabels.map((t, k) => (
        <Tx key={t} x={1339} y={130 + k * 20} s={12.5} a="r">{t}</Tx>
      ))}

      {/* E texts */}
      <Tx x={29} y={355} s={26} r={-90}>{CaC0}</Tx>
      <Tx x={197} y={496.5} s={18.5}>Flow gas volume (mL/g)</Tx>
      <Tx x={150} y={370} s={18} r={-90} c="#3262b8">308 K</Tx>
      <Tx x={197} y={370} s={18} r={-90}>298 K</Tx>
      <Tx x={239} y={370} s={18} r={-90} c="#e0352d">278 K</Tx>
      <Tx x={297} y={313} s={17}>1/99</Tx>
      <Tx x={278} y={446} s={17}>4.0 mL/min</Tx>

      {/* F texts */}
      <Tx x={355} y={370} s={17} r={-90}>Sim C<Sb>3</Sb>H<Sb>6</Sb> productivity</Tx>
      <Tx x={371} y={345} s={17} r={-90}>(mol/kg, 10/90 )</Tx>
      <Tx x={413} y={494} s={17} a="l">Exp C<Sb>3</Sb>H<Sb>6</Sb> productivity (mol/kg, 1/99)</Tx>
      <Tx x={570} y={300} s={15} c="#e22b2b">ZNU-2</Tx>
      <Tx x={632} y={300} s={15}>ZNU-2</Tx>
      <Tx x={635} y={317} s={15}>(273 K)</Tx>
      <Tx x={457} y={335} s={15} c="#e99540">SIFSIX-1-Cu</Tx>
      <Tx x={491} y={395} s={15} c="#c672c6">SIFSIX-3-Ni</Tx>
      <Tx x={487} y={423} s={15} c="#2f8a4c">SIFSIX-2-Cu-i</Tx>
      <Tx x={490} y={445} s={15} c="#2f3a7c">ELM-12</Tx>
      <Tx x={620} y={388} s={15} c="#3866a9">UTSA-200</Tx>
      <Tx x={632} y={430} s={15} c="#7cc143">NKMOF-11</Tx>

      {/* G texts */}
      <Tx x={708} y={362} s={26} r={-90}>{CaC0}</Tx>
      <Tx x={891} y={496} s={17}>Time (min)</Tx>
      <Tx x={806} y={333} s={17} a="l">Dry C<Sb>3</Sb>H<Sb>4</Sb>/C<Sb>3</Sb>H<Sb>6</Sb></Tx>
      <Tx x={806} y={356} s={17} a="l">65% humidity</Tx>
      <Tx x={925} y={440} s={17} a="l">2.2 mL/min</Tx>

      {/* H texts */}
      <Tx x={1045} y={357} s={26} r={-90}>{CaC0}</Tx>
      <Tx x={1231} y={496} s={17}>Time (min)</Tx>
      <Tx x={1338} y={288} s={16} a="r">4.0 mL/min</Tx>
      {hNames.map((n, k) => (
        <Tx key={n} x={k < 5 ? 1146 : 1289} y={k < 5 ? 325 + k * 22.9 : 343 + (k - 5) * 23} s={17} a="l">{n}</Tx>
      ))}
    </div>
  )
}
